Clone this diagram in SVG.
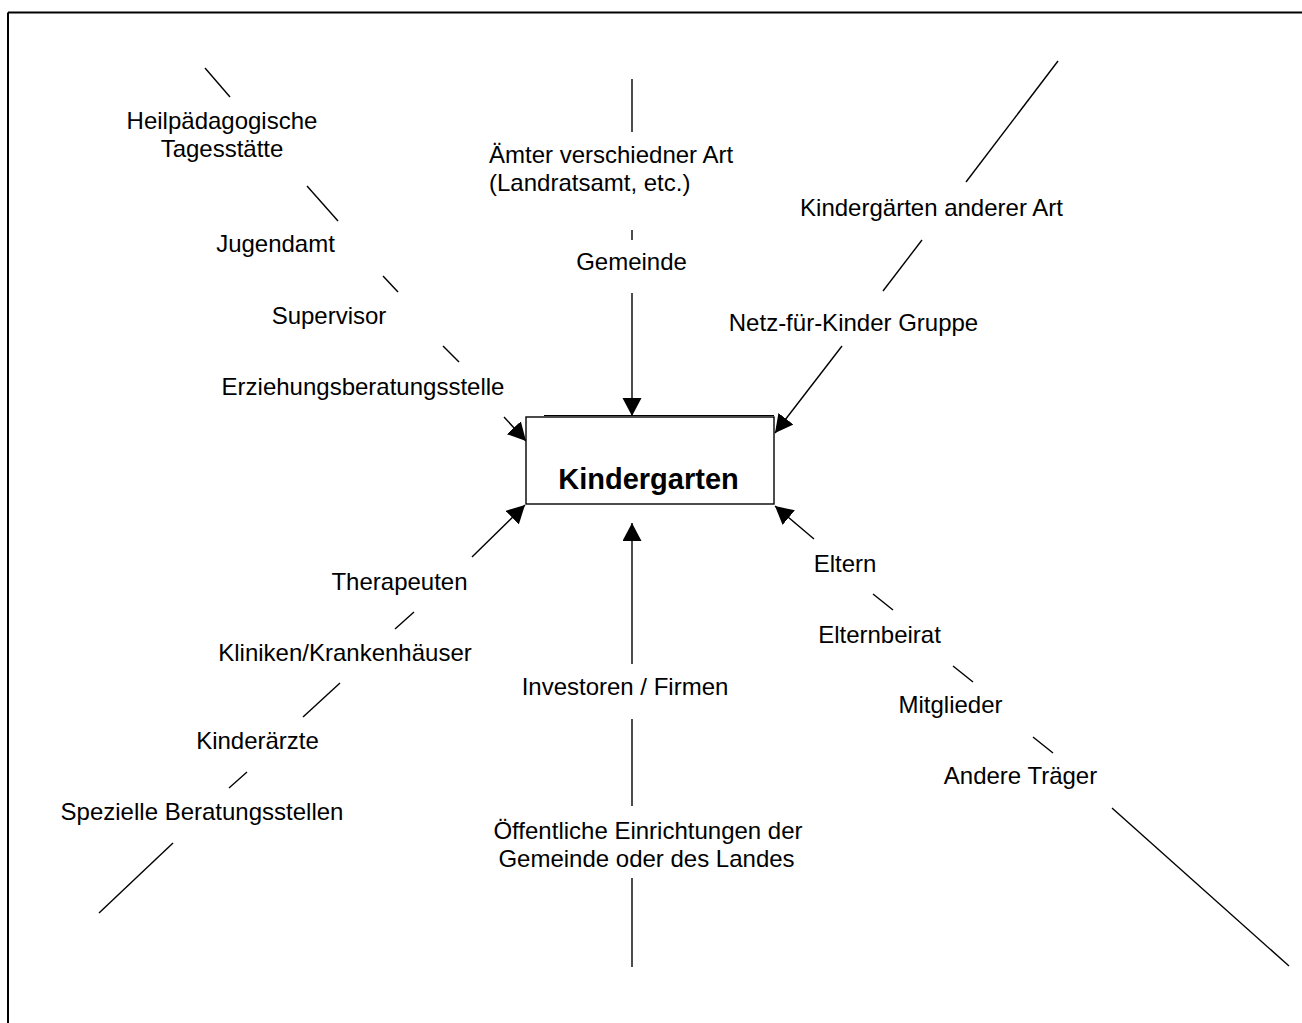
<svg xmlns="http://www.w3.org/2000/svg" width="1302" height="1023" viewBox="0 0 1302 1023">
<style>
.t{font-family:"Liberation Sans",Arial,sans-serif;font-size:24px;fill:#000;text-anchor:middle}
.s{text-anchor:start}
.b{font-weight:bold;font-size:29px}
.c line{stroke:#000;stroke-width:1.4;fill:none}
.a{marker-end:url(#ah)}
</style>
<defs>
<marker id="ah" markerUnits="userSpaceOnUse" markerWidth="20" markerHeight="20" refX="18" refY="9.5" orient="auto" viewBox="0 0 20 20">
<path d="M0,0 L18,9.5 L0,19 Z" fill="#000"/>
</marker>
</defs>
<rect width="1302" height="1023" fill="#fff"/>
<g id="frame" stroke="#000" stroke-width="2" fill="none">
<line x1="8" y1="12.5" x2="1302" y2="12.5"/>
<line x1="8" y1="12.5" x2="8" y2="1023"/>
</g>
<g id="connectors" class="c">
<line x1="205" y1="68" x2="230" y2="97"/>
<line x1="307" y1="186" x2="338" y2="221"/>
<line x1="383" y1="276" x2="398" y2="292"/>
<line x1="443" y1="346" x2="459" y2="362"/>
<line class="a" x1="504" y1="417" x2="526" y2="441"/>
<line x1="632" y1="79" x2="632" y2="132"/>
<line x1="632" y1="230" x2="632" y2="240"/>
<line class="a" x1="632" y1="293" x2="632" y2="416"/>
<line x1="1058" y1="61" x2="966" y2="182"/>
<line x1="922" y1="240" x2="883" y2="291"/>
<line class="a" x1="842" y1="346" x2="775" y2="433"/>
<line class="a" x1="472" y1="557" x2="525" y2="505"/>
<line x1="414" y1="612" x2="395" y2="629"/>
<line x1="340" y1="683" x2="303" y2="717"/>
<line x1="247" y1="772" x2="229" y2="788"/>
<line x1="173" y1="843" x2="99" y2="913"/>
<line class="a" x1="632" y1="664" x2="632" y2="523"/>
<line x1="632" y1="719" x2="632" y2="806"/>
<line x1="632" y1="878" x2="632" y2="967"/>
<line class="a" x1="814" y1="539" x2="775" y2="506"/>
<line x1="873" y1="594" x2="893" y2="610"/>
<line x1="953" y1="666" x2="973" y2="682"/>
<line x1="1033" y1="737" x2="1053" y2="753"/>
<line x1="1112" y1="808" x2="1289" y2="966"/>
</g>
<g id="kindergarten">
<rect x="526" y="417" width="248" height="87" fill="#fff" stroke="#000" stroke-width="1.4"/>
<line x1="544" y1="415.5" x2="774" y2="415.5" stroke="#000" stroke-width="1.2"/>
<text class="t b" x="648.5" y="489">Kindergarten</text>
</g>
<g id="heilpaedagogische"><text class="t" x="222" y="129">Heilpädagogische</text><text class="t" x="222" y="157">Tagesstätte</text></g>
<g id="jugendamt"><text class="t" x="275.5" y="252">Jugendamt</text></g>
<g id="supervisor"><text class="t" x="329" y="324">Supervisor</text></g>
<g id="erziehungsberatungsstelle"><text class="t" x="363" y="395">Erziehungsberatungsstelle</text></g>
<g id="aemter"><text class="t s" x="489" y="163">Ämter verschiedner Art</text><text class="t s" x="489" y="191">(Landratsamt, etc.)</text></g>
<g id="gemeinde"><text class="t" x="631.5" y="270">Gemeinde</text></g>
<g id="kindergaerten-anderer-art"><text class="t" x="931.5" y="216">Kindergärten anderer Art</text></g>
<g id="netz-fuer-kinder"><text class="t" x="853.5" y="331">Netz-für-Kinder Gruppe</text></g>
<g id="therapeuten"><text class="t" x="399.5" y="590">Therapeuten</text></g>
<g id="kliniken"><text class="t" x="345" y="661">Kliniken/Krankenhäuser</text></g>
<g id="kinderaerzte"><text class="t" x="257.5" y="749">Kinderärzte</text></g>
<g id="spezielle-beratungsstellen"><text class="t" x="202" y="820">Spezielle Beratungsstellen</text></g>
<g id="investoren"><text class="t" x="625" y="695">Investoren / Firmen</text></g>
<g id="oeffentliche"><text class="t" x="648" y="839">Öffentliche Einrichtungen der</text><text class="t" x="646.5" y="867">Gemeinde oder des Landes</text></g>
<g id="eltern"><text class="t" x="845" y="572">Eltern</text></g>
<g id="elternbeirat"><text class="t" x="879.5" y="643">Elternbeirat</text></g>
<g id="mitglieder"><text class="t" x="950.5" y="713">Mitglieder</text></g>
<g id="andere-traeger"><text class="t" x="1020.5" y="784">Andere Träger</text></g>
</svg>
